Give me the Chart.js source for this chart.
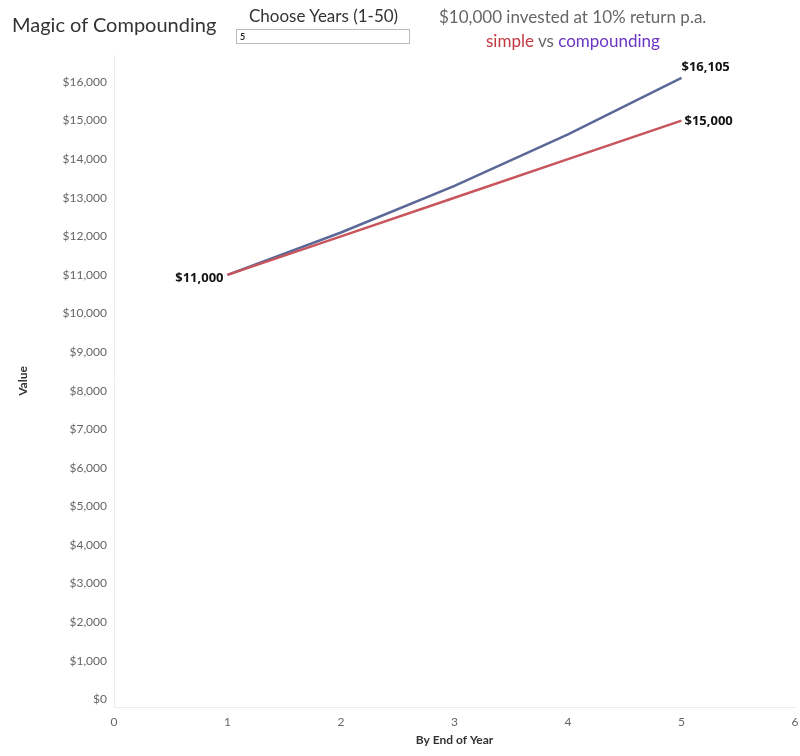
<!DOCTYPE html>
<html>
<head>
<meta charset="utf-8">
<script src="https://cdn.jsdelivr.net/npm/chart.js@4"></script>
<style>
  body { margin: 0; background: #fff; font-family: Lato, sans-serif; }
  #wrap { position: relative; width: 800px; height: 756px; overflow: hidden; }
  #chart { position: absolute; left: 0; top: 0; }
  .txt { position: absolute; white-space: nowrap; }
  #title { left: 12px; top: 12px; font-size: 20px; color: #333; }
  #chooseLabel { left: 249px; top: 5px; font-size: 17px; color: #333; }
  #years { position: absolute; left: 236px; top: 29px; width: 174px; height: 15px; box-sizing: border-box;
           border: 1px solid #bbb; font: bold 9px Lato, sans-serif; padding: 0 3px; color: #222; }
  #sub1 { left: 439px; top: 6px; font-size: 17px; color: #666; }
  #sub2 { left: 486px; top: 30px; font-size: 17px; color: #666; }
  .simple { color: #c0393f; }
  .comp { color: #6a35c4; }
</style>
</head>
<body>
<div id="wrap">
  <canvas id="chart" width="800" height="756"></canvas>
  <div class="txt" id="title">Magic of Compounding</div>
  <div class="txt" id="chooseLabel">Choose Years (1-50)</div>
  <input id="years" type="text" value="5">
  <div class="txt" id="sub1">$10,000 invested at 10% return p.a.</div>
  <div class="txt" id="sub2"><span class="simple">simple</span> vs <span class="comp">compounding</span></div>
</div>
<script>
const years = [1, 2, 3, 4, 5];
const simpleValues = [11000, 12000, 13000, 14000, 15000];
const compoundValues = [11000, 12100, 13310, 14641, 16105];
const yTicks = [0, 1000, 2000, 3000, 4000, 5000, 6000, 7000, 8000, 9000, 10000,
                11000, 12000, 13000, 14000, 15000, 16000];
const xTicks = [0, 1, 2, 3, 4, 5, 6];

const money = v => "$" + v.toLocaleString("en-US");

// value labels at first point and at the line ends
const labelPlugin = {
  id: "valueLabels",
  afterDatasetsDraw(chart) {
    const ctx = chart.ctx;
    ctx.save();
    ctx.font = "bold 13px 'Open Sans', sans-serif";
    ctx.fillStyle = "#111";
    ctx.textBaseline = "middle";

    const comp = chart.getDatasetMeta(1).data;
    const simp = chart.getDatasetMeta(0).data;

    const first = comp[0];
    ctx.textAlign = "right";
    ctx.fillText(money(compoundValues[0]), first.x - 4, first.y + 3);

    const lastC = comp[comp.length - 1];
    ctx.textAlign = "left";
    ctx.fillText(money(compoundValues[compoundValues.length - 1]), lastC.x, lastC.y - 11);

    const lastS = simp[simp.length - 1];
    ctx.fillText(money(simpleValues[simpleValues.length - 1]), lastS.x + 3, lastS.y + 1);
    ctx.restore();
  }
};

const ctx = document.getElementById("chart").getContext("2d");
const chart = new Chart(ctx, {
  type: "line",
  data: {
    datasets: [
      {
        label: "simple",
        data: years.map((x, i) => ({ x: x, y: simpleValues[i] })),
        borderColor: "#c8555c",
        borderWidth: 2.5,
        pointRadius: 0,
        fill: false
      },
      {
        label: "compounding",
        data: years.map((x, i) => ({ x: x, y: compoundValues[i] })),
        borderColor: "#5b6897",
        borderWidth: 2.5,
        pointRadius: 0,
        fill: false
      }
    ]
  },
  options: {
    responsive: false,
    animation: false,
    layout: { padding: { top: 55, right: 5, left: 0, bottom: 0 } },
    plugins: { legend: { display: false }, tooltip: { enabled: false } },
    scales: {
      x: {
        type: "linear",
        min: 0,
        max: 6,
        grid: { display: false, drawTicks: false },
        border: { display: true, color: "#ececec", width: 1 },
        afterBuildTicks: s => { s.ticks = xTicks.map(v => ({ value: v })); },
        afterFit: s => { s.height = 49; s.paddingRight = 0; s.paddingLeft = 0; },
        ticks: { color: "#666", padding: 8, font: { family: "Lato", size: 12 }, maxRotation: 0 },
        title: {
          display: true,
          text: "By End of Year",
          color: "#333",
          padding: { top: 9, bottom: 9 },
          font: { family: "Lato", size: 12, weight: "bold" }
        }
      },
      y: {
        min: -200,
        max: 16700,
        grid: { display: false, drawTicks: false },
        border: { display: true, color: "#ececec", width: 1 },
        afterBuildTicks: s => { s.ticks = yTicks.map(v => ({ value: v })); },
        afterFit: s => { s.width = 114; },
        ticks: {
          color: "#666",
          padding: 7,
          font: { family: "Lato", size: 12 },
          callback: v => money(v)
        },
        title: {
          display: true,
          text: "Value",
          color: "#333",
          padding: { top: 16, bottom: 0 },
          font: { family: "Lato", size: 12, weight: "bold" }
        }
      }
    }
  },
  plugins: [labelPlugin]
});
</script>
</body>
</html>
